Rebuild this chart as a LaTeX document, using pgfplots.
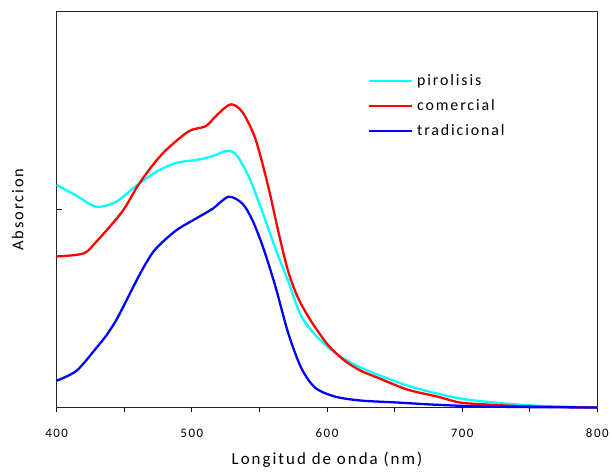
\documentclass[border=0pt]{standalone}
\usepackage{pgfplots}
\pgfplotsset{compat=1.18}
\usepackage{fontspec}
\setmainfont{Carlito}
\newfontfamily\spaced[LetterSpace=12]{Carlito}
\definecolor{cyn}{RGB}{0,255,255}
\definecolor{rd}{RGB}{255,0,0}
\definecolor{bl}{RGB}{0,0,255}
\begin{document}
\begin{tikzpicture}
\begin{axis}[
  scale only axis,
  width=544pt, height=398pt,
  xmin=400, xmax=800, ymin=0, ymax=398,
  xtick={400,500,600,700,800},
  minor xtick={450,550,650,750},
  xtick pos=bottom,
  tick align=outside,
  major tick length=5pt, minor tick length=5pt,
  ytick={199}, yticklabels={},
  ytick pos=left,
  y tick style={xshift=5pt},
  every tick/.style={black, line width=0.8pt},
  axis line style={line width=1pt, black!85},
  /pgf/number format/assume math mode=true,
  xticklabel style={font=\spaced\fontsize{13}{15}\selectfont, yshift=-13pt},
  xlabel={Longitud de onda (nm)},
  ylabel={Absorcion},
  xlabel style={font=\spaced\fontsize{17}{19}\selectfont, at={(axis description cs:0.5,-0.133)}, anchor=center},
  ylabel style={font=\spaced\fontsize{16.5}{18}\selectfont, at={(axis description cs:-0.072,0.5)}, anchor=center},
  legend style={draw=none, fill=none, at={(rel axis cs:0.575,0.852)}, anchor=north west,
    font=\spaced\fontsize{16}{18}\selectfont, row sep=8.5pt, inner xsep=0pt,
    nodes={inner xsep=4pt}},
  legend cell align=left,
  legend image code/.code={\draw[#1, line width=2.6pt] (0pt,0pt) -- (43pt,0pt);},
  clip=false,
]
\path (rel axis cs:-0.1048,-0.1508) rectangle (rel axis cs:1.0202,1.0302);
\addplot[cyn, line width=2.3pt, smooth, tension=0.5] coordinates {
(400,224) (414.7,213) (429.4,202) (444,207) (458.8,223) (473.5,237) (488.2,246)
(502.9,249) (510.3,251) (517.6,254) (525,258) (532.4,255) (541.9,233) (552.2,197)
(561.8,160) (571.3,127) (580.9,92) (593.4,70) (608.1,53) (620.6,43) (637.5,33)
(659.6,22) (681.6,14) (703.7,8) (740.4,3) (769.9,1) (800,0)};
\addlegendentry{pirolisis}
\addplot[rd, line width=2.3pt, smooth, tension=0.5] coordinates {
(400,152) (419.9,155) (429.4,167) (440,183) (450,200) (460,223) (470,242) (480.9,259)
(497.8,278) (510.3,283) (517.6,293) (528.7,305) (537.5,297) (547.1,270) (556.6,222)
(564,177) (571.3,137) (578.7,110) (588.2,87) (600.7,63) (613.2,47) (625,37)
(637.5,30) (659.6,18) (681.6,11) (698.5,5) (718.4,3) (740.4,1.5) (769.9,0.5) (800,0)};
\addlegendentry{comercial}
\addplot[bl, line width=2.3pt, smooth, tension=0.5] coordinates {
(400,27) (414.7,37) (429.4,60) (437,73) (444.1,88) (451,106) (458.8,127) (466,145) (473.5,160) (488.2,178)
(502.9,190) (515.4,200) (527.2,212) (537.5,205) (545,188) (553,160) (561.8,122)
(571.3,75) (580.9,40) (591.2,20) (605.9,11) (625,7) (652.2,5) (677.2,3) (703.7,1.5)
(740.4,0.5) (800,0)};
\addlegendentry{tradicional}
\end{axis}
\end{tikzpicture}
\end{document}
